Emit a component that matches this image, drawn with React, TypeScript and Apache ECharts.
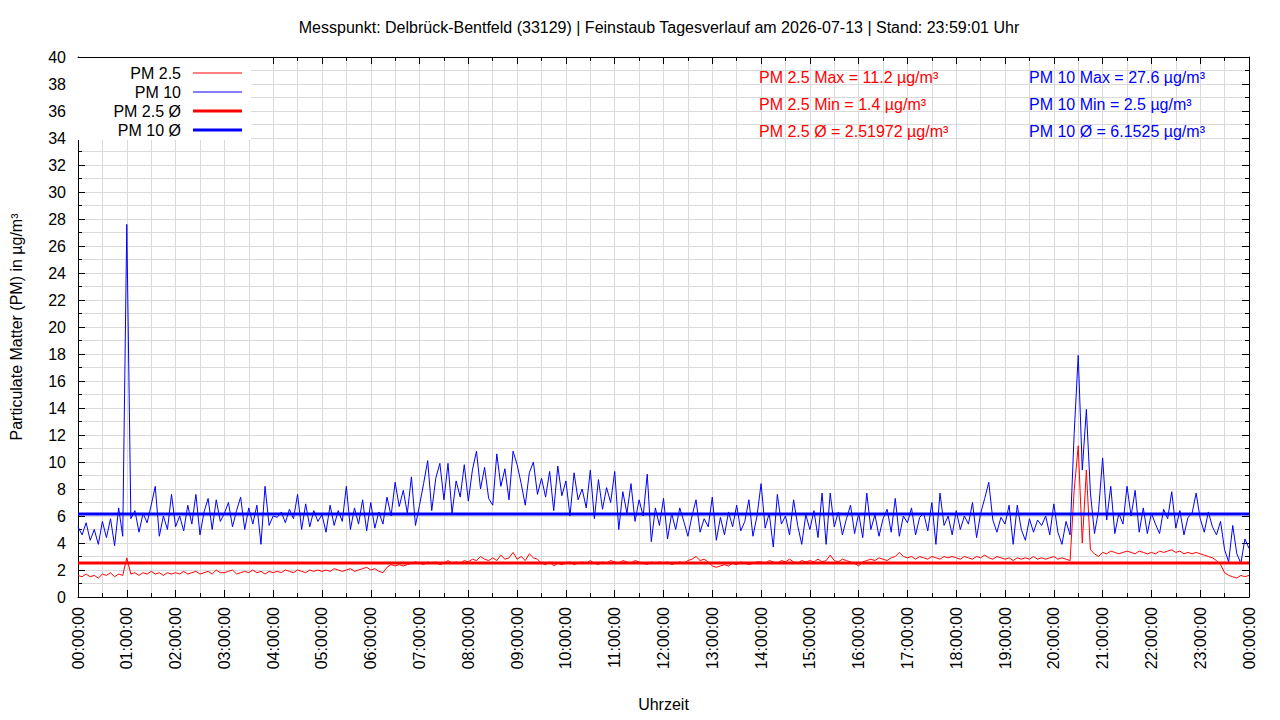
import React, { useEffect, useRef } from "react";
import * as echarts from "echarts";

// Sampling step of the series in minutes (00:00 .. 24:00)
const STEP_MIN = 5;

// PM 10 values (µg/m³), one per 5 minutes, 00:00 .. 24:00
const pm10: number[] = [
  // 00
  5.2, 4.6, 5.5, 4.2, 5.0, 3.9, 5.6, 4.4, 5.8, 3.8, 6.6, 4.5,
  // 01
  27.6, 5.8, 6.4, 4.8, 6.2, 5.5, 6.8, 8.2, 4.5, 6.0, 5.0, 7.6,
  // 02
  5.2, 6.0, 4.9, 6.8, 5.4, 7.6, 4.6, 6.3, 7.3, 5.0, 7.2, 5.6,
  // 03
  6.2, 7.0, 5.2, 6.4, 7.4, 5.0, 6.6, 5.4, 6.8, 3.9, 8.2, 5.3,
  // 04
  6.0, 5.9, 6.3, 5.5, 6.5, 5.8, 7.6, 5.0, 6.9, 5.2, 6.4, 5.6,
  // 05
  6.1, 4.8, 6.8, 5.3, 6.4, 5.6, 8.2, 5.0, 6.6, 5.4, 7.2, 4.9,
  // 06
  7.0, 5.1, 6.3, 5.4, 7.4, 6.0, 8.5, 6.7, 7.9, 6.2, 8.9, 5.3,
  // 07
  6.8, 8.4, 10.1, 6.4, 8.8, 9.9, 7.2, 9.9, 6.2, 8.6, 7.4, 9.8,
  // 08
  7.1, 9.4, 10.8, 8.0, 9.6, 7.3, 6.8, 10.6, 8.2, 9.5, 7.2, 10.8,
  // 09
  9.8, 8.4, 6.8, 9.2, 10.0, 7.6, 8.8, 7.4, 9.3, 6.4, 9.7, 7.5,
  // 10
  8.6, 6.0, 9.2, 7.2, 8.0, 6.6, 9.4, 5.8, 8.7, 6.5, 8.1, 7.0,
  // 11
  9.3, 5.0, 7.8, 6.2, 8.4, 5.6, 7.2, 6.0, 9.1, 4.1, 6.6, 5.3,
  // 12
  7.3, 4.3, 6.2, 5.0, 6.6, 5.6, 4.5, 6.0, 7.2, 4.8, 5.8, 5.2,
  // 13
  7.4, 4.2, 5.9, 4.6, 6.3, 5.2, 6.8, 4.9, 5.6, 7.2, 4.5, 6.0,
  // 14
  8.4, 5.1, 6.2, 3.7, 7.6, 5.4, 6.0, 4.6, 7.2, 5.3, 3.9, 6.1,
  // 15
  5.0, 6.4, 4.4, 7.7, 3.9, 7.7, 5.2, 6.3, 4.6, 5.8, 6.8, 4.7,
  // 16
  6.2, 4.4, 7.7, 5.0, 6.1, 4.5, 5.8, 6.5, 4.8, 7.3, 4.5, 6.0,
  // 17
  5.5, 6.6, 4.6, 5.9, 6.2, 4.9, 7.0, 3.9, 7.7, 5.3, 6.0, 4.6,
  // 18
  6.4, 5.0, 6.0, 5.4, 7.0, 4.4, 6.2, 7.3, 8.5, 5.7, 4.8, 5.9,
  // 19
  5.4, 6.8, 3.9, 6.8, 5.0, 4.2, 5.8, 4.8, 5.7, 5.3, 6.0, 4.6,
  // 20
  6.9, 4.8, 3.9, 5.6, 4.6, 12.1, 17.9, 9.4, 13.9, 7.7, 4.7, 6.4,
  // 21
  10.3, 5.7, 8.2, 4.7, 6.2, 5.4, 8.2, 6.0, 7.9, 4.8, 6.6, 4.7,
  // 22
  6.2, 5.4, 4.7, 6.5, 5.8, 7.8, 5.1, 6.4, 4.6, 5.9, 6.2, 7.7,
  // 23
  5.8, 4.8, 6.3, 5.2, 4.6, 5.6, 3.5, 2.6, 5.3, 3.2, 2.5, 4.3,
  // 24:00
  3.6,
];

// PM 2.5 values (µg/m³), one per 5 minutes, 00:00 .. 24:00
const pm25: number[] = [
  // 00
  1.6, 1.5, 1.7, 1.5, 1.6, 1.4, 1.7, 1.6, 1.8, 1.5, 1.7, 1.6,
  // 01
  2.9, 1.7, 1.8, 1.6, 1.8, 1.7, 1.9, 1.7, 1.8, 1.6, 1.8, 1.7,
  // 02
  1.8, 1.7, 1.9, 1.7, 1.8, 1.9, 1.7, 1.8, 1.9, 1.7, 2.0, 1.8,
  // 03
  1.8, 1.9, 2.0, 1.7, 1.8, 1.9, 1.8, 2.0, 1.8, 1.9, 1.7, 1.9,
  // 04
  1.8, 1.9, 1.8, 2.0, 1.9, 1.8, 2.0, 1.9, 1.8, 2.0, 1.9, 2.0,
  // 05
  1.9, 2.0, 1.9, 2.1, 2.0, 1.9, 2.0, 2.1, 1.9, 2.0, 2.1, 2.2,
  // 06
  2.0, 2.1, 1.9, 1.8, 2.2, 2.4, 2.3, 2.4, 2.3, 2.4, 2.5, 2.6,
  // 07
  2.5, 2.4, 2.6, 2.5, 2.6, 2.4, 2.5, 2.7, 2.5, 2.6, 2.5, 2.7,
  // 08
  2.6, 2.8, 2.7, 3.0, 2.8, 2.7, 2.9, 2.7, 3.1, 2.8, 2.9, 3.3,
  // 09
  2.8, 3.0, 2.7, 3.2, 2.9, 2.8, 2.5, 2.4, 2.6, 2.3, 2.5, 2.4,
  // 10
  2.5, 2.6, 2.4, 2.5, 2.6, 2.5, 2.7, 2.5, 2.4, 2.6, 2.5, 2.7,
  // 11
  2.6, 2.5, 2.7, 2.6, 2.5, 2.7, 2.6, 2.5, 2.4, 2.6, 2.5, 2.6,
  // 12
  2.5, 2.6, 2.4, 2.5, 2.6, 2.5, 2.7, 2.8, 3.0, 2.7, 2.8, 2.6,
  // 13
  2.3, 2.2, 2.3, 2.4, 2.3, 2.5, 2.4, 2.6, 2.5, 2.4, 2.5, 2.6,
  // 14
  2.6, 2.5, 2.7, 2.6, 2.5, 2.7, 2.6, 2.8, 2.6, 2.5, 2.7, 2.6,
  // 15
  2.7, 2.6, 2.8, 2.6, 2.7, 3.1, 2.7, 2.6, 2.8, 2.7, 2.6, 2.5,
  // 16
  2.3, 2.6, 2.7, 2.8, 2.7, 2.9, 2.8, 2.7, 2.9, 3.0, 3.3, 3.0,
  // 17
  2.9, 3.0, 2.8, 3.0, 2.9, 2.8, 3.0, 2.9, 2.8, 3.0, 2.9, 3.0,
  // 18
  2.9, 2.8, 3.0, 2.9, 2.8, 3.0, 2.9, 3.1, 2.9, 2.8, 3.0, 2.9,
  // 19
  2.8, 2.9, 2.7, 2.9, 2.8, 2.9, 2.8, 3.0, 2.8, 2.9, 2.8, 2.9,
  // 20
  3.0, 2.8, 2.9, 2.8, 2.7, 7.9, 11.2, 4.0, 9.4, 3.5, 3.2, 3.0,
  // 21
  3.3, 3.2, 3.4, 3.3, 3.2, 3.3, 3.4, 3.3, 3.2, 3.4, 3.3, 3.2,
  // 22
  3.3, 3.2, 3.4, 3.3, 3.4, 3.5, 3.3, 3.4, 3.2, 3.3, 3.2, 3.3,
  // 23
  3.2, 3.1, 3.0, 2.9, 2.7, 2.4, 1.8, 1.6, 1.5, 1.4, 1.6, 1.5,
  // 24:00
  1.6,
];

// Statistics shown on the chart
const pm25Max = 11.2;
const pm25Min = 1.4;
const pm25Avg = 2.51972;
const pm10Max = 27.6;
const pm10Min = 2.5;
const pm10Avg = 6.1525;

const seriesNames = ["PM 2.5", "PM 10", "PM 2.5 Ø", "PM 10 Ø"];
const titleText =
  "Messpunkt: Delbrück-Bentfeld (33129) | Feinstaub Tagesverlauf am 2026-07-13 | Stand: 23:59:01 Uhr";
const yAxisName = "Particulate Matter (PM) in µg/m³";
const xAxisName = "Uhrzeit";

const X_MIN = 0;
const X_MAX = 1440;
const X_INTERVAL = 60;
const Y_MIN = 0;
const Y_MAX = 40;
const Y_INTERVAL = 2;

const RED = "#ff0000";
const BLUE = "#0000ff";
const FONT = "'Liberation Sans', Arial, Helvetica, sans-serif";
const GRID_COLOR = "#dadada";

const fmtTime = (v: number) => {
  const h = Math.round(v / 60) % 24;
  return `${String(h).padStart(2, "0")}:00:00`;
};

export default function App() {
  const ref = useRef<HTMLDivElement>(null);

  useEffect(() => {
    if (!ref.current) return;
    const chart = echarts.init(ref.current, undefined, { renderer: "svg" });

    const pm25Data = pm25.map((v, i) => [i * STEP_MIN, v]);
    const pm10Data = pm10.map((v, i) => [i * STEP_MIN, v]);
    const pm25AvgData = [
      [X_MIN, pm25Avg],
      [X_MAX, pm25Avg],
    ];
    const pm10AvgData = [
      [X_MIN, pm10Avg],
      [X_MAX, pm10Avg],
    ];

    const tickStyle = { show: true, inside: true, length: 7, lineStyle: { color: "#000", width: 1 } };
    const minorTickStyle = { show: true, splitNumber: 2, length: 4, lineStyle: { color: "#000", width: 1 } };

    const legendY = [73, 92, 111, 130];
    const legendColors = [RED, BLUE, RED, BLUE];
    const legendWidths = [1, 1, 3, 3];

    const legendGraphics: any[] = [
      {
        type: "rect",
        z: 100,
        shape: { x: 75, y: 58, width: 176, height: 82 },
        style: { fill: "#ffffff" },
        silent: true,
      },
    ];
    seriesNames.forEach((name, i) => {
      legendGraphics.push({
        type: "text",
        z: 101,
        x: 181,
        y: legendY[i],
        style: {
          text: name,
          fill: "#000",
          font: `16px ${FONT}`,
          textAlign: "right",
          textVerticalAlign: "middle",
        },
        silent: true,
      });
      legendGraphics.push({
        type: "line",
        z: 101,
        shape: { x1: 193, y1: legendY[i], x2: 242, y2: legendY[i] },
        style: { stroke: legendColors[i], lineWidth: legendWidths[i] },
        silent: true,
      });
    });

    const statLines = [
      { x: 759, y: 77, color: RED, text: `PM 2.5 Max = ${pm25Max} µg/m³` },
      { x: 759, y: 104, color: RED, text: `PM 2.5 Min = ${pm25Min} µg/m³` },
      { x: 759, y: 131, color: RED, text: `PM 2.5 Ø = ${pm25Avg} µg/m³` },
      { x: 1029, y: 77, color: BLUE, text: `PM 10 Max = ${pm10Max} µg/m³` },
      { x: 1029, y: 104, color: BLUE, text: `PM 10 Min = ${pm10Min} µg/m³` },
      { x: 1029, y: 131, color: BLUE, text: `PM 10 Ø = ${pm10Avg} µg/m³` },
    ];
    const statGraphics = statLines.map((s) => ({
      type: "text",
      z: 101,
      x: s.x,
      y: s.y,
      style: {
        text: s.text,
        fill: s.color,
        font: `16px ${FONT}`,
        textAlign: "left",
        textVerticalAlign: "middle",
      },
      silent: true,
    }));

    const option: any = {
      animation: false,
      backgroundColor: "#ffffff",
      textStyle: { fontFamily: FONT },
      grid: { left: 74, right: 31, top: 57, bottom: 123, containLabel: false },
      graphic: [
        {
          type: "text",
          z: 101,
          x: 659,
          y: 27,
          style: {
            text: titleText,
            fill: "#000",
            font: `16px ${FONT}`,
            textAlign: "center",
            textVerticalAlign: "middle",
          },
          silent: true,
        },
        ...legendGraphics,
        ...statGraphics,
      ],
      xAxis: [
        {
          type: "value",
          position: "bottom",
          min: X_MIN,
          max: X_MAX,
          interval: X_INTERVAL,
          name: xAxisName,
          nameLocation: "middle",
          nameGap: 99,
          nameTextStyle: { color: "#000", fontSize: 16, fontFamily: FONT },
          axisLine: { show: true, onZero: false, lineStyle: { color: "#000", width: 1 } },
          axisTick: tickStyle,
          minorTick: { ...minorTickStyle },
          axisLabel: {
            show: true,
            rotate: 90,
            margin: 10,
            padding: [0, 0, 8, 0],
            color: "#000",
            fontSize: 16,
            fontFamily: FONT,
            formatter: fmtTime,
          },
          splitLine: { show: true, lineStyle: { color: GRID_COLOR, width: 1 } },
          minorSplitLine: { show: true, lineStyle: { color: GRID_COLOR, width: 1 } },
        },
        {
          type: "value",
          position: "top",
          min: X_MIN,
          max: X_MAX,
          interval: X_INTERVAL,
          axisLine: { show: true, onZero: false, lineStyle: { color: "#000", width: 1 } },
          axisTick: tickStyle,
          minorTick: { ...minorTickStyle },
          axisLabel: { show: false },
          splitLine: { show: false },
          minorSplitLine: { show: false },
        },
      ],
      yAxis: [
        {
          type: "value",
          position: "left",
          min: Y_MIN,
          max: Y_MAX,
          interval: Y_INTERVAL,
          name: yAxisName,
          nameLocation: "middle",
          nameGap: 54,
          nameTextStyle: { color: "#000", fontSize: 16, fontFamily: FONT },
          axisLine: { show: true, onZero: false, lineStyle: { color: "#000", width: 1 } },
          axisTick: tickStyle,
          minorTick: { ...minorTickStyle },
          axisLabel: { show: true, margin: 12, color: "#000", fontSize: 16, fontFamily: FONT },
          splitLine: { show: true, lineStyle: { color: GRID_COLOR, width: 1 } },
          minorSplitLine: { show: true, lineStyle: { color: GRID_COLOR, width: 1 } },
        },
        {
          type: "value",
          position: "right",
          min: Y_MIN,
          max: Y_MAX,
          interval: Y_INTERVAL,
          axisLine: { show: true, onZero: false, lineStyle: { color: "#000", width: 1 } },
          axisTick: tickStyle,
          minorTick: { ...minorTickStyle },
          axisLabel: { show: false },
          splitLine: { show: false },
          minorSplitLine: { show: false },
        },
      ],
      series: [
        {
          name: seriesNames[0],
          type: "line",
          data: pm25Data,
          showSymbol: false,
          symbol: "none",
          silent: true,
          lineStyle: { color: RED, width: 1 },
          itemStyle: { color: RED },
          emphasis: { disabled: true },
          z: 2,
        },
        {
          name: seriesNames[1],
          type: "line",
          data: pm10Data,
          showSymbol: false,
          symbol: "none",
          silent: true,
          lineStyle: { color: BLUE, width: 1 },
          itemStyle: { color: BLUE },
          emphasis: { disabled: true },
          z: 3,
        },
        {
          name: seriesNames[2],
          type: "line",
          data: pm25AvgData,
          showSymbol: false,
          symbol: "none",
          silent: true,
          lineStyle: { color: RED, width: 3 },
          itemStyle: { color: RED },
          emphasis: { disabled: true },
          z: 4,
        },
        {
          name: seriesNames[3],
          type: "line",
          data: pm10AvgData,
          showSymbol: false,
          symbol: "none",
          silent: true,
          lineStyle: { color: BLUE, width: 3 },
          itemStyle: { color: BLUE },
          emphasis: { disabled: true },
          z: 5,
        },
      ],
    };

    chart.setOption(option);
    return () => {
      chart.dispose();
    };
  }, []);

  return (
    <div
      ref={ref}
      style={{ position: "fixed", left: 0, top: 0, width: 1280, height: 720, background: "#fff" }}
    />
  );
}
